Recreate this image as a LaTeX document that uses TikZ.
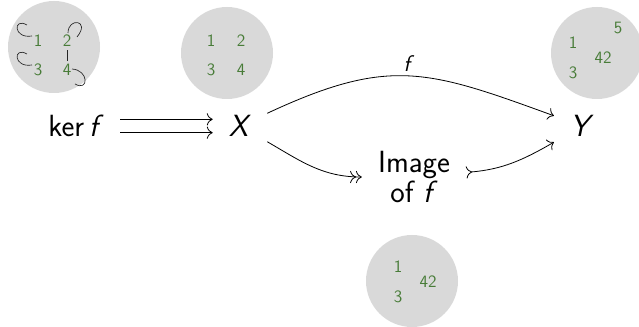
\documentclass[tikz,border=0pt]{standalone}
\usepackage{fontspec}
\usetikzlibrary{arrows.meta}
\definecolor{elemgreen}{RGB}{72,124,56}
\definecolor{setgray}{RGB}{217,217,217}
\begin{document}
\begin{tikzpicture}[x=0.75pt,y=0.75pt,
  setdisk/.style={circle,fill=setgray,minimum size=69pt,inner sep=0pt},
  elem/.style={text=elemgreen,font=\sffamily\fontsize{13}{15}\selectfont,inner sep=2.5pt},
  obj/.style={font=\sffamily\fontsize{23}{19}\selectfont,inner sep=12pt,align=center},
  maplabel/.style={font=\sffamily\fontsize{17}{19}\selectfont,inner sep=3pt},
  selfmap/.style={draw=black!85,line width=0.5pt},
  arr/.style={line width=0.6pt,-{To[scale=1.5]}}]
\useasboundingbox (0,0) rectangle (639,-327);

% the four sets as grey disks
\node[setdisk] (dker) at (54,-47) {};
\node[setdisk] (dX) at (227,-53) {};
\node[setdisk] (dY) at (597,-53) {};
\node[setdisk] (dim) at (412,-281) {};

% elements of the kernel relation, with its pairs
\node[elem] (k1) at (38,-41) {1};
\node[elem] (k2) at (67,-41) {2};
\node[elem] (k3) at (38,-70) {3};
\node[elem] (k4) at (67,-70) {4};
\draw[selfmap] ([shift={(-6,5)}]k1.center) .. controls +(-19,-3) and +(-14,8) .. ([shift={(-11,16)}]k1.center);
\draw[selfmap] ([shift={(-6,5)}]k3.center) .. controls +(-19,-3) and +(-14,8) .. ([shift={(-11,16)}]k3.center);
\draw[selfmap] ([shift={(1,8)}]k2.center) .. controls +(0,16) and +(14,17) .. ([shift={(10,4)}]k2.center);
\draw[selfmap] ([shift={(5,1)}]k4.center) .. controls +(17,-1) and +(14,-8) .. ([shift={(8,-14)}]k4.center);
\draw[selfmap] (k2) -- (k4);

% elements of X
\node[elem] (x1) at (211,-41) {1};
\node[elem] (x2) at (241,-41) {2};
\node[elem] (x3) at (211,-70) {3};
\node[elem] (x4) at (241,-70) {4};

% elements of Y
\node[elem] (y5) at (618,-28) {5};
\node[elem] (y1) at (573,-43) {1};
\node[elem] (y42) at (603,-58) {42};
\node[elem] (y3) at (573,-73) {3};

% elements of the image
\node[elem] (i1) at (398,-267) {1};
\node[elem] (i42) at (428,-282) {42};
\node[elem] (i3) at (398,-297) {3};

% objects
\node[obj] (K) at (76,-126) {ker\,\textit{f}};
\node[obj] (X) at (240,-126) {\textit{X}};
\node[obj] (Y) at (582,-126) {\textit{Y}};
\node[obj] (I) at (414,-177) {Image\\of \textit{f}};

% maps
\draw[arr] ([yshift=5]K.east) -- ([yshift=5]X.west);
\draw[arr] ([yshift=-5]K.east) -- ([yshift=-5]X.west);
\draw[arr] (X) to[out=25,in=160,looseness=1.2] node[maplabel,above] (fl) {\textit{f}} (Y);
\draw[line width=0.6pt,-{To[scale=1.5]To[scale=1.5]}] (X) to[out=-30,in=180] (I);
\draw[line width=0.6pt,{To[scale=1.5,reversed]}-{To[scale=1.5]}] (I) to[out=5,in=210] (Y);
\end{tikzpicture}
\end{document}
